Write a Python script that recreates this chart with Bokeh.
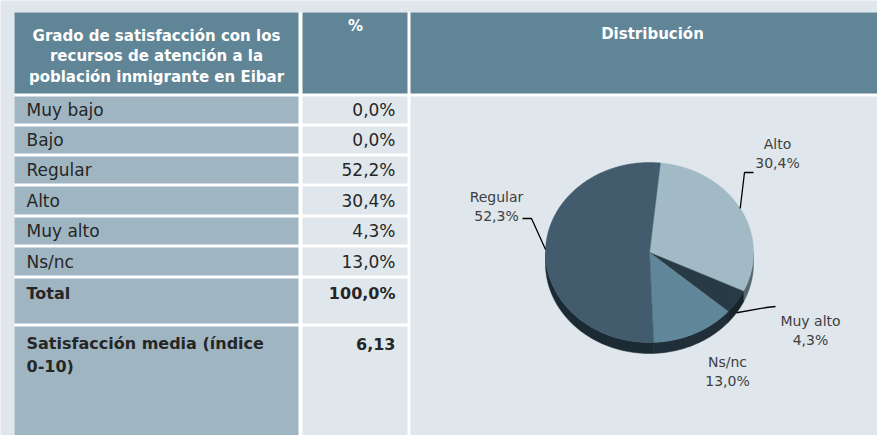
import numpy as np
from bokeh.plotting import figure
from bokeh.models import Range1d
from bokeh.core.properties import value
from bokeh.embed import file_html
from bokeh.resources import INLINE

# ---------------- data ----------------
header_lines = ["Grado de satisfacción con los", "recursos de atención a la", "población inmigrante en Eibar"]
header_pct = "%"
header_dist = "Distribución"
categories = ["Muy bajo", "Bajo", "Regular", "Alto", "Muy alto", "Ns/nc"]
percent_labels = ["0,0%", "0,0%", "52,2%", "30,4%", "4,3%", "13,0%"]
total_label = "Total"
total_value = "100,0%"
mean_lines = ["Satisfacción media (índice", "0-10)"]
mean_value = "6,13"

pie_categories = ["Alto", "Muy alto", "Ns/nc", "Regular"]   # clockwise from top
pie_values = [30.4, 4.3, 13.0, 52.3]
pie_value_labels = ["30,4%", "4,3%", "13,0%", "52,3%"]

# ---------------- styles / layout ----------------
BG = "#dfe6ec"
HEAD = "#5f8596"
LEFT = "#9fb6c2"
LIGHT = "#dfe6ec"
TXT = "#262626"
LBL = "#404040"
FONT = "DejaVu Sans"
top_colors = {"Regular": "#425c6e", "Alto": "#a1bac5", "Muy alto": "#283a45", "Ns/nc": "#5f8799"}
side_colors = {"Regular": "#1c2a33", "Alto": "#56676f", "Muy alto": "#18242b", "Ns/nc": "#1f2e38"}

W, H = 877, 435
p = figure(width=W, height=H, x_range=Range1d(0, W), y_range=Range1d(H, 0),
           output_backend="svg", toolbar_location=None, min_border=0)
p.axis.visible = False
p.grid.visible = False
p.outline_line_color = None
p.background_fill_color = BG
p.border_fill_color = BG

# white backing (gaps between cells)
p.quad(left=[14], right=[880], top=[12], bottom=[440], fill_color="white", line_color=None)

# header cells
p.quad(left=[14, 302, 410], right=[298, 407, 880], top=[12] * 3, bottom=[93] * 3,
       fill_color=HEAD, line_color=None)

# rows
row_tops = [96, 126, 156, 186, 217, 247, 278, 326]
row_bots = [123, 153, 183, 214, 244, 275, 323, 440]
p.quad(left=[14] * 8, right=[298] * 8, top=row_tops, bottom=row_bots, fill_color=LEFT, line_color=None)
p.quad(left=[302] * 8, right=[407] * 8, top=row_tops, bottom=row_bots, fill_color=LIGHT, line_color=None)
p.quad(left=[410], right=[880], top=[96], bottom=[440], fill_color=LIGHT, line_color=None)

# header text
p.text(x=[156] * 3, y=[35, 55.5, 76], text=header_lines, text_align="center", text_baseline="middle",
       text_font=value(FONT), text_font_style="bold", text_font_size="15px", text_color="white")
p.text(x=[355], y=[25], text=[header_pct], text_align="center", text_baseline="middle",
       text_font=value(FONT), text_font_style="bold", text_font_size="15px", text_color="white")
p.text(x=[652], y=[33], text=[header_dist], text_align="center", text_baseline="middle",
       text_font=value(FONT), text_font_style="bold", text_font_size="15px", text_color="white")

# row text
FS = "17px"
row_centers = [(t + b) / 2 for t, b in zip(row_tops[:6], row_bots[:6])]
p.text(x=[26] * 6, y=row_centers, text=categories, text_align="left", text_baseline="middle",
       text_font=value(FONT), text_font_size=FS, text_color=TXT)
p.text(x=[395] * 6, y=row_centers, text=percent_labels, text_align="right", text_baseline="middle",
       text_font=value(FONT), text_font_size=FS, text_color=TXT)
p.text(x=[26], y=[293], text=[total_label], text_align="left", text_baseline="middle",
       text_font=value(FONT), text_font_style="bold", text_font_size="16px", text_color=TXT)
p.text(x=[395], y=[293], text=[total_value], text_align="right", text_baseline="middle",
       text_font=value(FONT), text_font_style="bold", text_font_size="16px", text_color=TXT)
p.text(x=[26, 26], y=[343, 366], text=mean_lines, text_align="left", text_baseline="middle",
       text_font=value(FONT), text_font_style="bold", text_font_size="16px", text_color=TXT)
p.text(x=[395], y=[343], text=[mean_value], text_align="right", text_baseline="middle",
       text_font=value(FONT), text_font_style="bold", text_font_size="16px", text_color=TXT)

# ---------------- 3D pie ----------------
cx, cy, rx, ry, depth = 649.0, 252.0, 104.0, 90.0, 11.0
start_deg = 84.0
vals = np.array(pie_values, dtype=float)
fr = vals / vals.sum()
hi = start_deg - 360.0 * np.concatenate([[0], np.cumsum(fr)[:-1]])
lo = hi - 360.0 * fr


def ell(t_deg, dy=0.0):
    t = np.radians(t_deg)
    return cx + rx * np.cos(t), cy - ry * np.sin(t) + dy


side_xs, side_ys, side_c = [], [], []
top_xs, top_ys, top_c = [], [], []
for name, a_lo, a_hi in zip(pie_categories, lo, hi):
    # side wall: visible part is the lower half (-180..0)
    s0, s1 = max(a_lo, -180.0), min(a_hi, 0.0)
    if s1 > s0:
        t = np.linspace(s0, s1, 60)
        x1, y1 = ell(t)
        x2, y2 = ell(t[::-1], depth)
        side_xs.append(np.concatenate([x1, x2]).tolist())
        side_ys.append(np.concatenate([y1, y2]).tolist())
        side_c.append(side_colors[name])
    t = np.linspace(a_hi, a_lo, 150)
    x, y = ell(t)
    top_xs.append([cx] + x.tolist())
    top_ys.append([cy] + y.tolist())
    top_c.append(top_colors[name])

p.patches(side_xs, side_ys, fill_color=side_c, line_color=side_c, line_width=0.5)
p.patches(top_xs, top_ys, fill_color=top_c, line_color=top_c, line_width=0.5)

# labels with leader lines (layout: label centre and elbow offsets)
label_pos = {"Alto": (777, 143), "Muy alto": (810, 320), "Ns/nc": (727, 361), "Regular": (496, 196)}
elbows = {"Alto": [(744, 172), (753, 172)], "Muy alto": [(766, 307), (775, 306)],
          "Regular": [(531, 218), (522, 218)]}
lx, ly, lt = [], [], []
for name, a_lo, a_hi, vl in zip(pie_categories, lo, hi, pie_value_labels):
    x0, y0 = label_pos[name]
    lx += [x0, x0]
    ly += [y0, y0 + 19]
    lt += [name, vl]
    if name in elbows:
        mid = (a_lo + a_hi) / 2
        dy = depth if np.sin(np.radians(mid)) < -0.3 else 0.0
        ex, ey = ell(mid, dy)
        pts = [(float(ex), float(ey))] + elbows[name]
        p.line([q[0] for q in pts], [q[1] for q in pts], line_color="black", line_width=1.3)

p.text(x=lx, y=ly, text=lt, text_align="center", text_baseline="middle",
       text_font=value(FONT), text_font_size="14px", text_color=LBL)

open("out.html", "w").write(file_html(p, INLINE))
